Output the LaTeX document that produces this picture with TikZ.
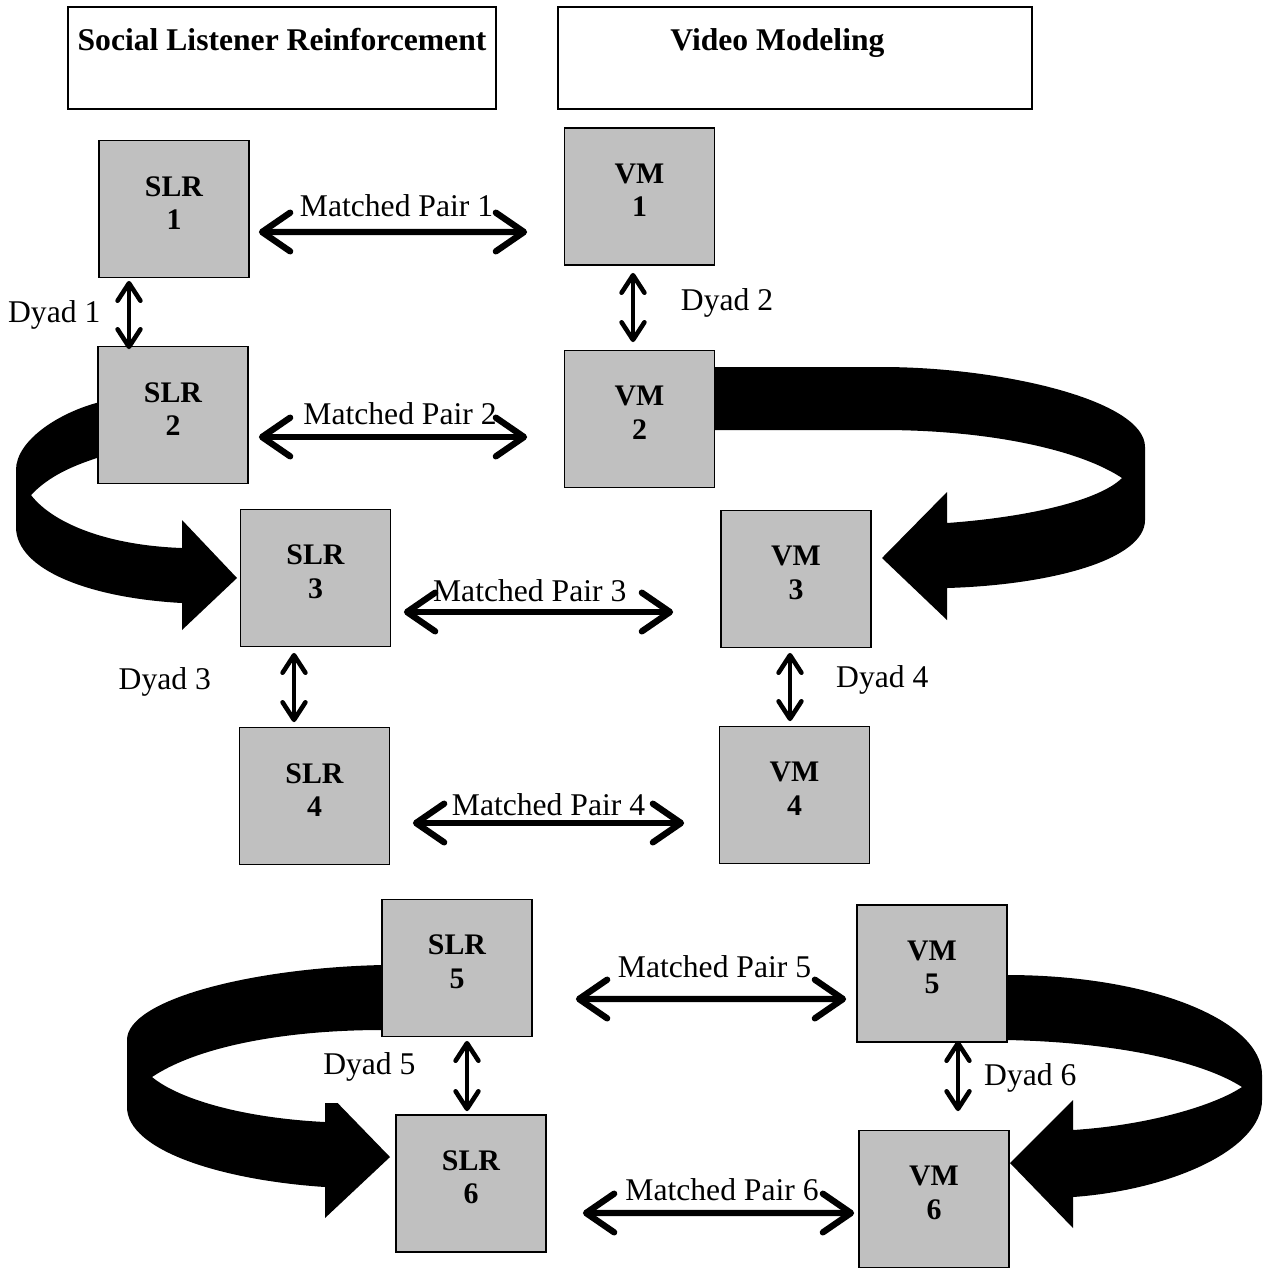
\documentclass[tikz,border=0pt]{standalone}
\usepackage{fontspec}
\setmainfont{Liberation Serif}
\usetikzlibrary{arrows.meta}
\definecolor{gris}{RGB}{192,192,192}
\tikzset{
  entete/.style={draw, line width=1pt, minimum width=8.56cm, minimum height=2.04cm, align=center, font=\fontsize{18}{21}\selectfont\bfseries},
  case/.style={draw, line width=1pt, fill=gris, minimum width=3cm, minimum height=2.74cm,
    label={[yshift=3.5pt, align=center, font=\fontsize{17}{19}\selectfont\bfseries]center:#1}},
  paire/.style={line width=3.6pt, {Straight Barb[length=16pt,width=22pt,round]}-{Straight Barb[length=16pt,width=22pt,round]}},
  dyade/.style={line width=2.6pt, {Straight Barb[length=10pt,width=13pt,round]}-{Straight Barb[length=10pt,width=13pt,round]}},
  etiq/.style={font=\fontsize{18}{21}\selectfont, inner sep=0pt}
}
\begin{document}
\begin{tikzpicture}[x=0.02cm, y=-0.02cm]
        \useasboundingbox (0,0) rectangle (1273,1269);
        % Fleches courbes
        \fill (100,402) .. controls (60,412) and (16,440) .. (16,470) -- (16,527) .. controls (16,570) and (90,598) .. (182,603) -- (182,630) -- (237,578) -- (182,520) -- (182,548) .. controls (100,545) and (50,520) .. (31,495) .. controls (50,475) and (75,465) .. (100,457) -- cycle;
        \fill (715,367) -- (882,367) .. controls (1000,367) and (1145,400) .. (1145,447) -- (1145,520) .. controls (1145,560) and (1050,585) .. (947,588) -- (947,620) -- (882,558) -- (947,492) -- (947,523) .. controls (1030,517) and (1100,500) .. (1122,478) .. controls (1080,450) and (990,430) .. (882,430) -- (715,430) -- cycle;
        \fill (382,965) .. controls (250,968) and (127,1000) .. (127,1040) -- (127,1107) .. controls (127,1150) and (220,1180) .. (325,1187) -- (325,1218) -- (390,1157) -- (325,1090) -- (325,1122) .. controls (245,1118) and (180,1100) .. (152,1077) .. controls (200,1045) and (290,1030) .. (382,1030) -- cycle;
        \fill (1007,975) .. controls (1150,975) and (1262,1020) .. (1262,1075) -- (1262,1100) .. controls (1262,1150) and (1170,1190) .. (1073,1197) -- (1073,1228) -- (1010,1163) -- (1073,1100) -- (1073,1130) .. controls (1150,1125) and (1215,1105) .. (1242,1087) .. controls (1200,1060) and (1110,1042) .. (1007,1040) -- cycle;
        % En-tetes
        \node[entete] (tslr) at (282,58) {Social Listener Reinforcement\\~};
        \node[entete, minimum width=9.48cm] (tvm) at (795,58) {\hspace*{-20pt}Video Modeling\\~};
        % Cases SLR
        \node[case={SLR\\1}] (slr1) at (174,209) {};
        \node[case={SLR\\2}] (slr2) at (173,415) {};
        \node[case={SLR\\3}] (slr3) at (315.5,578) {};
        \node[case={SLR\\4}] (slr4) at (314.5,796) {};
        \node[case={SLR\\5}] (slr5) at (457,968) {};
        \node[case={SLR\\6}] (slr6) at (471,1183.5) {};
        % Cases VM
        \node[case={VM\\1}] (vm1) at (639.5,196.5) {};
        \node[case={VM\\2}] (vm2) at (639.5,419) {};
        \node[case={VM\\3}] (vm3) at (796,579) {};
        \node[case={VM\\4}] (vm4) at (794.5,795) {};
        \node[case={VM\\5}] (vm5) at (932,973.5) {};
        \node[case={VM\\6}] (vm6) at (934,1199) {};
        % Paires
        \draw[paire] ([shift={(9,23)}]slr1.east) -- ([shift={(-36.5,35.5)}]vm1.west) node[midway, etiq, anchor=base, yshift=9pt, xshift=2pt] {Matched Pair 1};
        \draw[paire] ([shift={(10,22)}]slr2.east) -- ([shift={(-36.5,18)}]vm2.west) node[midway, etiq, anchor=base, yshift=7pt, xshift=4pt] {Matched Pair 2};
        \draw[paire] ([shift={(12.5,34)}]slr3.east) -- ([shift={(-47,33)}]vm3.west) node[midway, etiq, anchor=base, yshift=6pt, xshift=-5pt] {Matched Pair 3};
        \draw[paire] ([shift={(22.5,27)}]slr4.east) -- ([shift={(-34.5,28)}]vm4.west) node[midway, etiq, anchor=base, yshift=4.5pt] {Matched Pair 4};
        \draw[paire] ([shift={(43,31)}]slr5.east) -- ([shift={(-10,25.5)}]vm5.west) node[midway, etiq, anchor=base, yshift=12.5pt, xshift=2pt] {Matched Pair 5};
        \draw[paire] ([shift={(36,29.5)}]slr6.east) -- ([shift={(-4,14)}]vm6.west) node[midway, etiq, anchor=base, yshift=7.4pt, xshift=2pt] {Matched Pair 6};
        % Dyades
        \draw[dyade] ([shift={(-45,2.5)}]slr1.south) -- ([shift={(-44,3.5)}]slr2.north) node[midway, left=15pt, etiq] {Dyad 1};
        \draw[dyade] ([shift={(-6.5,7)}]vm1.south) -- ([shift={(-6.5,-7.5)}]vm2.north) node[midway, right=26pt, etiq, yshift=2.5pt] {Dyad 2};
        \draw[dyade] ([shift={(-21.5,5.5)}]slr3.south) -- ([shift={(-20.5,-4.5)}]slr4.north) node[midway, left=46pt, etiq, yshift=3pt] {Dyad 3};
        \draw[dyade] ([shift={(-6,4.5)}]vm3.south) -- ([shift={(-4.5,-4.5)}]vm4.north) node[midway, right=25pt, etiq, yshift=4pt] {Dyad 4};
        \draw[dyade] ([shift={(10,3.5)}]slr5.south) -- ([shift={(-4,-3)}]slr6.north) node[midway, left=28pt, etiq, fill=white, text depth=16pt, yshift=-1pt] {Dyad 5};
        \draw[dyade] ([shift={(26,-2)}]vm5.south) -- ([shift={(24,-18.5)}]vm6.north) node[midway, right=13.6pt, etiq, yshift=-1pt] {Dyad 6};
\end{tikzpicture}
\end{document}
